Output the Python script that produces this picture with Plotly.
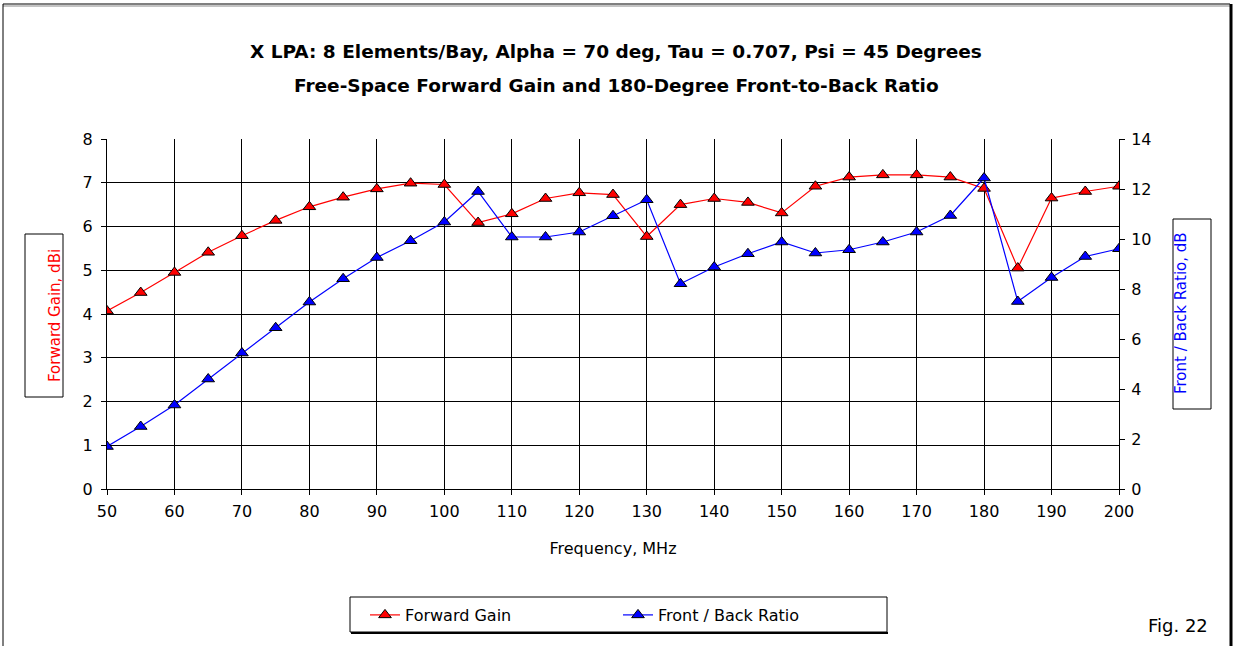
import plotly.graph_objects as go

# Frequency sweep, MHz
freq_mhz = [50, 55, 60, 65, 70, 75, 80, 85, 90, 95, 100, 105, 110, 115, 120, 125,
            130, 135, 140, 145, 150, 155, 160, 165, 170, 175, 180, 185, 190, 195, 200]

# Free-space forward gain, dBi (left axis)
forward_gain_dbi = [4.07, 4.49, 4.95, 5.41, 5.79, 6.14, 6.45, 6.67, 6.86, 6.99, 6.96,
                    6.09, 6.29, 6.64, 6.77, 6.73, 5.77, 6.50, 6.64, 6.55, 6.31, 6.92,
                    7.13, 7.18, 7.18, 7.13, 6.87, 5.05, 6.65, 6.80, 6.92]

# 180-degree front-to-back ratio, dB (right axis)
front_back_db = [1.70, 2.50, 3.36, 4.40, 5.44, 6.45, 7.48, 8.41, 9.26, 9.93, 10.68,
                 11.90, 10.08, 10.08, 10.28, 10.93, 11.57, 8.21, 8.88, 9.41, 9.88, 9.44,
                 9.57, 9.88, 10.28, 10.94, 12.44, 7.50, 8.46, 9.30, 9.61]

x_ticks = list(range(50, 201, 10))
left_ticks = list(range(0, 9))
right_ticks = list(range(0, 15, 2))

W, H = 1235, 646
L, R, T, B = 107, 1119, 139, 489
FONT = "DejaVu Sans"


def px(xp):
    return (xp - L) / (R - L)


def py(yp):
    return (B - yp) / (B - T)


fig = go.Figure()

fig.add_trace(go.Scatter(
    x=freq_mhz, y=forward_gain_dbi, name="Forward Gain", mode="lines+markers",
    line=dict(color="#ff0000", width=1.2),
    marker=dict(symbol="triangle-up", size=11, color="#ff0000",
                line=dict(color="black", width=1)),
    yaxis="y"))

fig.add_trace(go.Scatter(
    x=freq_mhz, y=front_back_db, name="Front / Back Ratio", mode="lines+markers",
    line=dict(color="#0000ff", width=1.2),
    marker=dict(symbol="triangle-up", size=11, color="#0000ff",
                line=dict(color="black", width=1)),
    yaxis="y2"))

tickfont = dict(family=FONT, size=16, color="black")

fig.update_layout(
    width=W, height=H,
    margin=dict(l=L, r=W - R, t=T, b=H - B),
    paper_bgcolor="white", plot_bgcolor="white",
    showlegend=True,
    legend=dict(orientation="h", x=px(365), y=py(598), xanchor="left", yanchor="top",
                bgcolor="rgba(0,0,0,0)", borderwidth=0,
                font=dict(family=FONT, size=16, color="black"),
                entrywidth=208, itemwidth=30),
    xaxis=dict(range=[50, 200], tickvals=x_ticks, showgrid=True, gridcolor="black",
               gridwidth=1, showline=True, linecolor="black", linewidth=1,
               ticks="outside", ticklen=5, tickcolor="black", tickfont=tickfont,
               ticklabelstandoff=3, zeroline=False,
               title=dict(text="Frequency, MHz", font=tickfont, standoff=22)),
    yaxis=dict(range=[0, 8], tickvals=left_ticks, showgrid=True, gridcolor="black",
               gridwidth=1, showline=True, linecolor="black", linewidth=1,
               ticks="outside", ticklen=5, tickcolor="black", tickfont=tickfont,
               ticklabelstandoff=5, zeroline=False),
    yaxis2=dict(range=[0, 14], tickvals=right_ticks, overlaying="y", side="right",
                showgrid=False, showline=True, linecolor="black", linewidth=1,
                ticks="outside", ticklen=5, tickcolor="black", tickfont=tickfont,
                ticklabelstandoff=3, zeroline=False),
    yaxis3=dict(range=[0, 14], tickvals=right_ticks, overlaying="y", side="right",
                anchor="x", showgrid=False, showline=False, showticklabels=False,
                ticks="inside", ticklen=5, tickcolor="black", zeroline=False),
)

titlefont = dict(family="DejaVu Sans", size=18.5, color="black")
fig.add_annotation(text="<b>X LPA: 8 Elements/Bay, Alpha = 70 deg, Tau = 0.707, Psi = 45 Degrees</b>",
                   xref="paper", yref="paper", x=px(616), y=py(52), showarrow=False,
                   font=titlefont, xanchor="center", yanchor="middle")
fig.add_annotation(text="<b>Free-Space Forward Gain and 180-Degree Front-to-Back Ratio</b>",
                   xref="paper", yref="paper", x=px(616), y=py(86), showarrow=False,
                   font=titlefont, xanchor="center", yanchor="middle")

# Boxed axis titles
fig.add_shape(type="rect", xref="paper", yref="paper", x0=px(25), x1=px(63), y0=py(234), y1=py(397),
              line=dict(color="black", width=1), fillcolor="white", layer="above")
fig.add_annotation(text="Forward Gain, dBi", xref="paper", yref="paper", x=px(44), y=py(316),
                   textangle=-90, showarrow=False,
                   font=dict(family=FONT, size=15, color="#ff0000"))
fig.add_shape(type="rect", xref="paper", yref="paper", x0=px(1173), x1=px(1211), y0=py(219), y1=py(409),
              line=dict(color="black", width=1), fillcolor="white", layer="above")
fig.add_annotation(text="Front / Back Ratio, dB", xref="paper", yref="paper", x=px(1192), y=py(313),
                   textangle=-90, showarrow=False,
                   font=dict(family=FONT, size=15, color="#0000ff"))

# Legend frame
fig.add_shape(type="rect", xref="paper", yref="paper", x0=px(350), x1=px(887), y0=py(597), y1=py(632),
              line=dict(color="black", width=1), layer="below")
fig.add_shape(type="line", xref="paper", yref="paper", x0=px(351), x1=px(888), y0=py(633), y1=py(633),
              line=dict(color="black", width=2))

fig.add_annotation(text="Fig. 22", xref="paper", yref="paper", x=px(1210), y=py(625),
                   xanchor="right", yanchor="middle",
                   showarrow=False, font=dict(family=FONT, size=18, color="black"))

# Outer frame with shadow on the right
fig.add_shape(type="line", xref="paper", yref="paper", x0=px(3), x1=px(1230), y0=py(4), y1=py(4),
              line=dict(color="black", width=1))
fig.add_shape(type="line", xref="paper", yref="paper", x0=px(3), x1=px(1230), y0=py(6), y1=py(6),
              line=dict(color="#888888", width=1))
fig.add_shape(type="line", xref="paper", yref="paper", x0=px(3), x1=px(3), y0=py(4), y1=py(660),
              line=dict(color="black", width=1))
fig.add_shape(type="line", xref="paper", yref="paper", x0=px(1231), x1=px(1231), y0=py(4), y1=py(660),
              line=dict(color="black", width=3))

fig.write_html("out.html")
